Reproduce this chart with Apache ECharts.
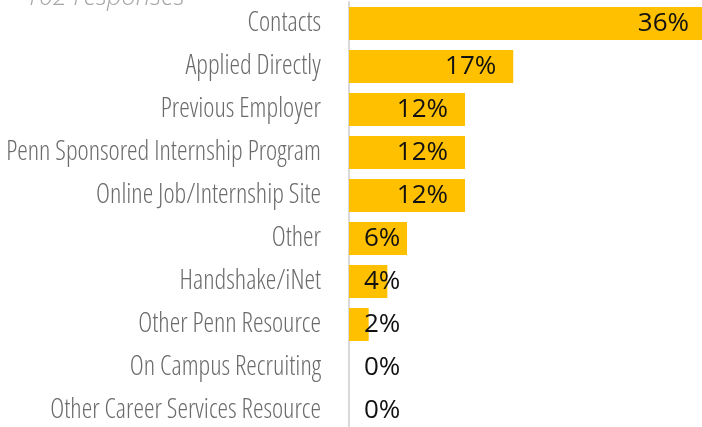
<!DOCTYPE html>
<html>
<head>
<meta charset="utf-8">
<script src="https://cdn.jsdelivr.net/npm/echarts@6/dist/echarts.min.js"></script>
<style>
html,body{margin:0;padding:0;background:#fff;}
#chart{width:702px;height:427px;}
</style>
</head>
<body>
<div id="chart"></div>
<script>
var titleText = '102 responses';
var categories = ['Contacts','Applied Directly','Previous Employer','Penn Sponsored Internship Program','Online Job/Internship Site','Other','Handshake/iNet','Other Penn Resource','On Campus Recruiting','Other Career Services Resource'];
var values = [36.3, 16.7, 11.8, 11.8, 11.8, 5.9, 3.9, 2.0, 0, 0];

var data = values.map(function (v) {
  var big = v >= 10;
  return {
    value: v,
    label: big ? { position: 'insideRight', distance: 17 } : { position: 'insideLeft', distance: 15 }
  };
});

var chart = echarts.init(document.getElementById('chart'), null, {renderer: 'canvas'});
chart.setOption({
  animation: false,
  backgroundColor: '#ffffff',
  title: {
    text: titleText,
    left: 20,
    top: -20,
    textStyle: { fontFamily: '"Open Sans"', fontStyle: 'italic', fontWeight: 300, fontSize: 25.5, color: '#a6a6a6' }
  },
  grid: { left: 349, right: -5, top: 2, bottom: -5, containLabel: false, outerBoundsMode: 'none' },
  xAxis: {
    type: 'value', min: 0, max: 36.4, show: false
  },
  yAxis: {
    type: 'category', data: categories, inverse: true,
    axisLine: { show: true, lineStyle: { color: '#d9d9d9', width: 2 } },
    axisTick: { show: false },
    axisLabel: {
      margin: 28, color: '#6b6b6b', fontSize: 26.6, fontFamily: '"Open Sans"', fontWeight: '300 condensed'
    }
  },
  series: [{
    type: 'bar', data: data, barWidth: 33,
    itemStyle: { color: '#FFC000' },
    label: {
      show: true, color: '#111111', fontSize: 26, fontFamily: '"Open Sans"',
      formatter: function (p) { return Math.round(p.value) + '%'; }
    }
  }]
});
</script>
</body>
</html>
